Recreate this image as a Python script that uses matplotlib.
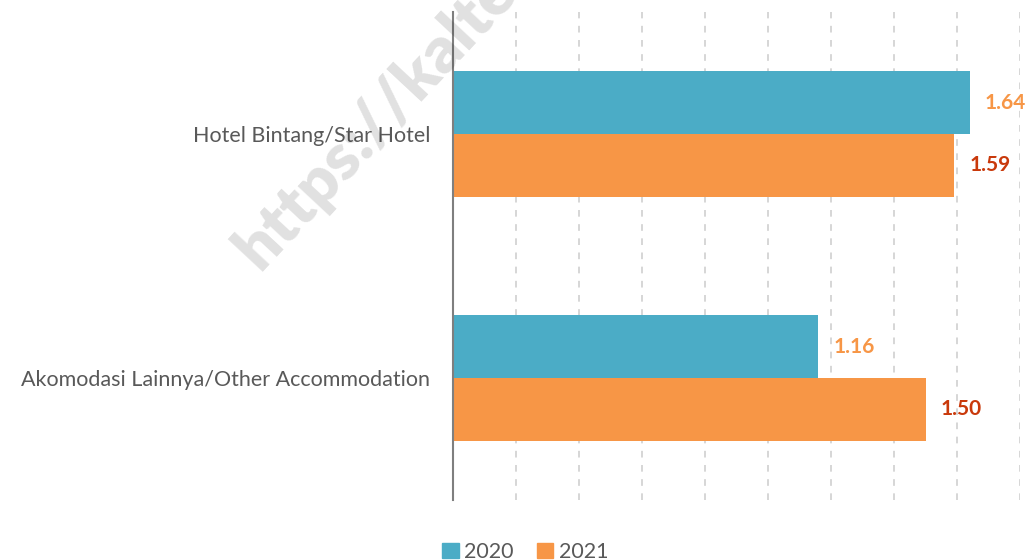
import matplotlib.pyplot as plt
from matplotlib.patches import Patch
import numpy as np

# data
categories = ['Hotel Bintang/Star Hotel', 'Akomodasi Lainnya/Other Accommodation']
years = ['2020', '2021']
v2020 = [1.64, 1.16]
v2021 = [1.59, 1.50]

c2020 = '#4BACC6'
c2021 = '#F79646'
lab2020 = '#F79646'
lab2021 = '#C9390B'
grey = '#595959'

plt.rcParams['font.family'] = ['Lato', 'DejaVu Sans']

fig = plt.figure(figsize=(10.28, 5.6), dpi=100)
ax = fig.add_axes([453 / 1028, 1 - 500 / 560, (1020 - 453) / 1028, 488 / 560])

y = np.arange(len(categories))
h = 0.258
b1 = ax.barh(y - h / 2, v2020, height=h, color=c2020, zorder=2)
b2 = ax.barh(y + h / 2, v2021, height=h, color=c2021, zorder=2)

for bars, vals, col in [(b1, v2020, lab2020), (b2, v2021, lab2021)]:
    for bar, v in zip(bars, vals):
        ax.annotate(f'{v:.2f}', (v, bar.get_y() + bar.get_height() / 2),
                    xytext=(11, 0), textcoords='offset points',
                    ha='left', va='center', fontsize=15, fontweight='bold', color=col)

ax.set_xlim(0, 1.8)
ax.set_ylim(1.5, -0.5)
ax.set_xticks(np.arange(0.2, 1.81, 0.2))
ax.set_xticklabels([])
ax.set_yticks(y)
ax.set_yticklabels(categories, fontsize=15.5, color=grey)
ax.tick_params(axis='both', length=0)
ax.tick_params(axis='y', pad=16.5)
ax.xaxis.grid(True, color='#cfcfcf', linestyle=(0, (4, 4.5)), linewidth=1.2, zorder=0)
ax.set_axisbelow(True)
for s in ['top', 'right', 'bottom']:
    ax.spines[s].set_visible(False)
ax.spines['left'].set_color('#7f7f7f')
ax.spines['left'].set_linewidth(1.5)
ax.spines['left'].set_zorder(3)

handles = [Patch(color=c2020), Patch(color=c2021)]
fig.legend(handles, years, loc='lower center', bbox_to_anchor=(0.511, -0.038), ncol=2,
           frameon=False, fontsize=15.5, handlelength=0.75, handleheight=0.75,
           handletextpad=0.25, columnspacing=1.1, labelcolor=grey)

# watermark
fig.text(0.252, 0.516, 'https://kalteng.bps.go.id', rotation=47, rotation_mode='anchor',
         ha='left', va='baseline', fontsize=47, fontweight='heavy', color='black',
         alpha=0.12, zorder=10)

fig.savefig('out.png', dpi=100)
